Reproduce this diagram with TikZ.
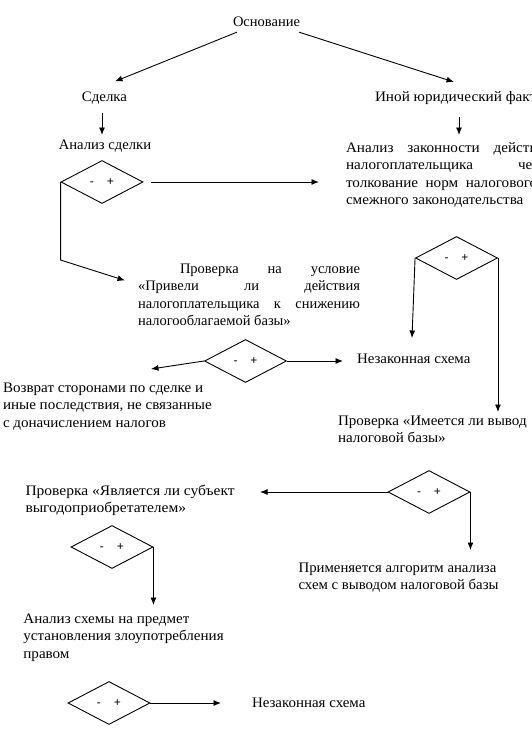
\documentclass[tikz,border=0pt]{standalone}
\usepackage{fontspec}
\usepackage{graphicx}
\setmainfont{Liberation Serif}
\newfontfamily\dsans{Liberation Sans}
\usetikzlibrary{shapes.geometric,arrows.meta}
\newcommand{\tsz}{\fontsize{14.5pt}{17.5pt}\selectfont}
\newcommand{\hs}[2]{\scalebox{#1}[1]{#2}}
\newcommand{\jbox}[2]{\parbox[t]{#1}{\tsz\tolerance=10000\hbadness=10000 #2}}
\newcommand{\lbox}[1]{\parbox[t]{260pt}{\tsz\raggedright #1}}
\newcommand{\dpm}{-\hspace{13pt}+}
\tikzset{
  txt/.style={inner sep=0pt, outer sep=0pt, font=\tsz},
  dia/.style={diamond, draw, line width=0.9pt, minimum width=82pt, minimum height=43pt, inner sep=0pt, font=\dsans\fontsize{12pt}{14pt}\selectfont},
  arr/.style={line width=0.9pt, -{Latex[length=7.5pt,width=6pt]}},
  ln/.style={line width=0.9pt}
}
\begin{document}
\begin{tikzpicture}[x=1pt,y=-1pt]
\useasboundingbox (0,0) rectangle (532,731);
\clip (0,0) rectangle (532,731);
\fill[white] (0,0) rectangle (532,731);
% nodes
\node[txt, anchor=base] (osn) at (266.5,26) {Основание};
\node[txt, anchor=base] (sd) at (104.5,101) {\hs{1.025}{Сделка}};
\node[txt, anchor=base west] (inoy) at (375,101) {\hs{1.05}{Иной юридический факт}};
\node[txt, anchor=base] (as) at (105,149) {\hs{1.01}{Анализ сделки}};
\node[dia] (d1) at (102,182) {\dpm};
\node[txt, anchor=base west] (zak) at (346,152) {\hs{1.045}{\jbox{198pt}{Анализ законности действий\linebreak налогоплательщика через\linebreak толкование норм налогового и\linebreak смежного законодательства}}};
\node[dia] (d2) at (456.5,258) {\dpm};
\node[txt, anchor=base west] (prov1) at (138,273) {\jbox{222pt}{\hspace*{42pt}Проверка на условие\linebreak «Привели ли действия\linebreak налогоплательщика к снижению\linebreak налогооблагаемой базы»}};
\node[dia] (d3) at (245.5,361) {\dpm};
\node[txt, anchor=base west] (nz1) at (357,363) {\hs{1.03}{Незаконная схема}};
\node[txt, anchor=base west] (voz) at (3,392) {\hs{1.04}{\lbox{Возврат сторонами по сделке и\\иные последствия, не связанные\\с доначислением налогов}}};
\node[txt, anchor=base west] (prov2) at (338,425) {\hs{1.04}{\lbox{Проверка «Имеется ли вывод\\налоговой базы»}}};
\node[dia] (d4) at (429,492) {\dpm};
\node[txt, anchor=base west] (prov3) at (25.5,495) {\hs{1.07}{\lbox{Проверка «Является ли субъект\\выгодоприобретателем»}}};
\node[dia] (d5) at (112,547) {\dpm};
\node[txt, anchor=base west] (prim) at (298.6,572) {\hs{1.02}{\lbox{Применяется алгоритм анализа\\схем с выводом налоговой базы}}};
\node[txt, anchor=base west] (an2) at (23.4,623) {\hs{1.04}{\lbox{Анализ схемы на предмет\\установления злоупотребления\\правом}}};
\node[dia] (d6) at (109,703) {\dpm};
\node[txt, anchor=base west] (nz2) at (252,707) {\hs{1.03}{Незаконная схема}};
% connectors
\draw[arr] ([shift={(4,6)}]osn.south west) -- ([shift={(10.5,-10)}]sd.north);
\draw[arr] ([shift={(-1,6)}]osn.south east) -- ([shift={(79,-19)}]inoy.base west);
\draw[arr] ([shift={(-2.5,12)}]sd.base) -- ([shift={(-3,-14)}]as.base);
\draw[arr] ([shift={(84,16)}]inoy.base west) -- ([shift={(113,-17)}]zak.base west);
\draw[arr] ([xshift=8]d1.east) -- ([xshift=-27]d1.east -| zak.west);
\draw[arr] (d1.west) -- ++(0,78) -- ([shift={(-13,7.5)}]prov1.base west);
\draw[arr] (d2.west) -- ([shift={(55,-25)}]nz1.base west);
\draw[arr] (d2.east) -- ([yshift=13]d2.east |- prov2.base west);
\draw[arr] (d3.east) -- ([xshift=-14]d3.east -| nz1.west);
\draw[arr] (d3.west) -- ([shift={(148,-23)}]voz.base west);
\draw[arr] (d4.west) -- ([xshift=234.5]d4.west -| prov3.west);
\draw[arr] (d4.east) -- ([yshift=22]d4.east |- prim.base west);
\draw[arr] (d5.east) -- ([yshift=18]d5.east |- an2.base west);
\draw[arr] (d6.east) -- ([xshift=-31]d6.east -| nz2.west);
\end{tikzpicture}
\end{document}
